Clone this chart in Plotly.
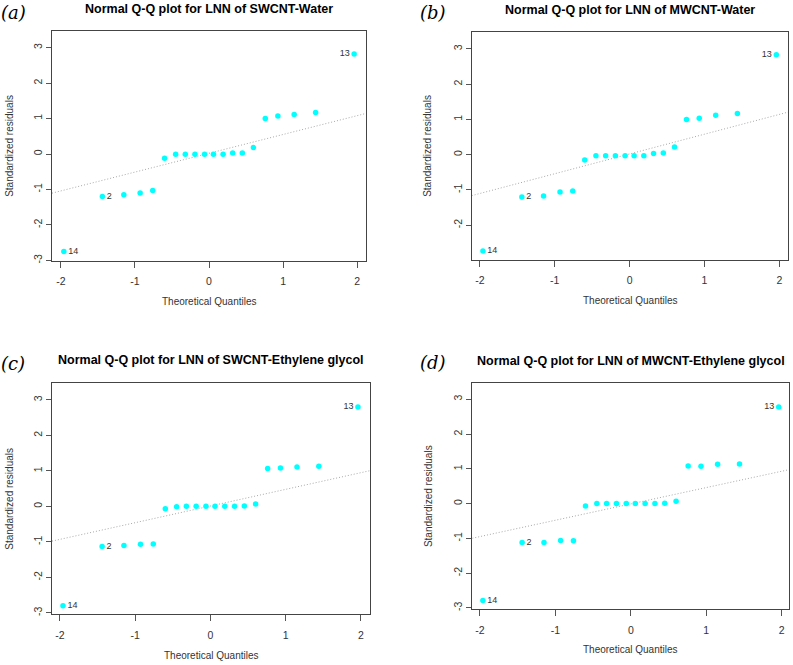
import plotly.graph_objects as go

# Theoretical quantiles (n = 20)
theoretical_q = [-1.96, -1.44, -1.15, -0.93, -0.76, -0.60, -0.45, -0.32, -0.19, -0.06,
                 0.06, 0.19, 0.32, 0.45, 0.60, 0.76, 0.93, 1.15, 1.44, 1.96]

resid_swcnt_water = [-2.75, -1.20, -1.15, -1.10, -1.03, -0.12, -0.01, -0.01, -0.01, -0.01,
                     -0.01, -0.01, 0.03, 0.03, 0.18, 1.00, 1.07, 1.11, 1.17, 2.82]
resid_mwcnt_water = [-2.73, -1.20, -1.17, -1.06, -1.03, -0.15, -0.03, -0.03, -0.03, -0.03,
                     -0.03, -0.03, 0.03, 0.05, 0.22, 1.00, 1.03, 1.12, 1.17, 2.83]
resid_swcnt_eg = [-2.80, -1.13, -1.10, -1.07, -1.06, -0.07, -0.01, 0.00, 0.00, 0.00,
                  0.00, 0.00, 0.00, 0.01, 0.07, 1.07, 1.08, 1.11, 1.13, 2.80]
resid_mwcnt_eg = [-2.79, -1.12, -1.12, -1.06, -1.07, -0.07, 0.00, 0.00, 0.00, 0.00,
                  0.00, 0.00, 0.00, 0.01, 0.07, 1.08, 1.07, 1.13, 1.14, 2.78]

# qq-line (intercept, slope)
qqline_params = [(0.02, 0.53), (0.02, 0.56), (0.01, 0.47), (-0.01, 0.47)]

titles = ["Normal Q-Q plot for LNN of SWCNT-Water",
          "Normal Q-Q plot for LNN of MWCNT-Water",
          "Normal Q-Q plot for LNN of SWCNT-Ethylene glycol",
          "Normal Q-Q plot for LNN of MWCNT-Ethylene glycol"]
panel_labels = ["(a)", "(b)", "(c)", "(d)"]
point_labels = ["14", "2"] + [""] * 17 + ["13"]
label_pos = ["middle right", "middle right"] + ["middle right"] * 17 + ["middle left"]

x_ticks = [-2, -1, 0, 1, 2]
x_ticktext = ["-2", "-1", "0", "1", "2"]
y_ticks = [-3, -2, -1, 0, 1, 2, 3]
y_ticktext = ["-3", "-2", "-1", "0", "1", "2", "3"]

series = [resid_swcnt_water, resid_mwcnt_water, resid_swcnt_eg, resid_mwcnt_eg]

W, H = 793, 665
# pixel boxes (left, right, top, bottom)
boxes = [(52, 366, 31, 262), (471.7, 788.3, 32, 261),
         (52, 370, 385, 617), (472.3, 789.3, 385, 611.7)]
xranges = [(-2.12, 2.12), (-2.11, 2.12), (-2.106, 2.12), (-2.10, 2.10)]
yranges = [(-3.01, 3.47), (-2.98, 3.48), (-3.04, 3.47), (-3.03, 3.46)]
title_pos = [(209, 9), (630, 10), (211, 362), (631, 363)]
plabel_pos = [(13, 13), (433, 13), (13, 365), (433, 364)]
ylab_x = [10, 428, 10, 428]
xlab_y = [303, 302, 658, 652]

font_family = "Liberation Sans, Arial, sans-serif"
fig = go.Figure()
layout = dict(width=W, height=H, margin=dict(l=0, r=0, t=0, b=0), autosize=False,
              paper_bgcolor="white", plot_bgcolor="white", showlegend=False,
              font=dict(family=font_family, color="#333"))
annotations = []

for i in range(4):
    sfx = "" if i == 0 else str(i + 1)
    xa, ya = "x" + sfx, "y" + sfx
    l, r, t, b = boxes[i]
    icpt, slope = qqline_params[i]
    x0, x1 = xranges[i]
    fig.add_trace(go.Scatter(x=[x0, x1], y=[icpt + slope * x0, icpt + slope * x1],
                             mode="lines", line=dict(color="#a8a8a8", width=1, dash="1px,2px"),
                             xaxis=xa, yaxis=ya, hoverinfo="skip", cliponaxis=True))
    fig.add_trace(go.Scatter(x=theoretical_q, y=series[i], mode="markers+text",
                             marker=dict(color="#00FFFF", size=5.5),
                             text=point_labels, textposition=label_pos,
                             textfont=dict(size=9, color="#333", family=font_family),
                             xaxis=xa, yaxis=ya, cliponaxis=False))
    common = dict(showgrid=False, zeroline=False, showline=True, mirror=True,
                  linecolor="#444", linewidth=1, ticks="outside",
                  tickcolor="#555", tickfont=dict(size=10.5, color="#333", family=font_family))
    layout["xaxis" + sfx] = dict(domain=[l / W, r / W], range=list(xranges[i]),
                                 tickvals=x_ticks, ticktext=x_ticktext, anchor=ya,
                                 ticklen=6, ticklabelstandoff=5, **common)
    layout["yaxis" + sfx] = dict(domain=[1 - b / H, 1 - t / H], range=list(yranges[i]),
                                 tickvals=y_ticks, ticktext=y_ticktext, tickangle=-90,
                                 anchor=xa, ticklen=5, **common)
    tx, ty = title_pos[i]
    annotations.append(dict(text="<b>" + titles[i] + "</b>", x=tx / W, y=1 - ty / H,
                            xref="paper", yref="paper", showarrow=False,
                            font=dict(size=12.5, color="black", family=font_family),
                            xanchor="center", yanchor="middle"))
    px, py = plabel_pos[i]
    annotations.append(dict(text="<i>" + panel_labels[i] + "</i>", x=px / W, y=1 - py / H,
                            xref="paper", yref="paper", showarrow=False,
                            font=dict(size=18, color="black", family="DejaVu Serif, serif"),
                            xanchor="center", yanchor="middle"))
    annotations.append(dict(text="Standardized residuals", x=ylab_x[i] / W,
                            y=1 - ((t + b) / 2) / H, xref="paper", yref="paper",
                            showarrow=False, textangle=-90,
                            font=dict(size=10, color="#333", family=font_family),
                            xanchor="center", yanchor="middle"))
    annotations.append(dict(text="Theoretical Quantiles", x=((l + r) / 2) / W,
                            y=1 - xlab_y[i] / H, xref="paper", yref="paper",
                            showarrow=False,
                            font=dict(size=10, color="#333", family=font_family),
                            xanchor="center", yanchor="middle"))

layout["annotations"] = annotations
fig.update_layout(**layout)
fig.write_html("out.html", config={"displayModeBar": False},
               post_script="document.body.style.margin='0';document.body.style.overflow='hidden';")
